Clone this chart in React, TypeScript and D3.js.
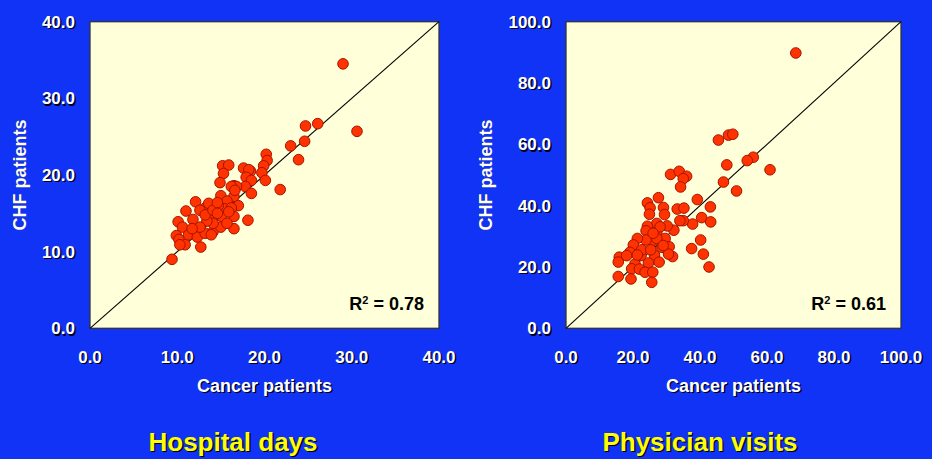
import React from "react";
import * as d3 from "d3";

// ---- Data ----
const hospitalCancer = [29.0, 30.6, 26.1, 24.7, 24.6, 23.0, 23.9, 21.8, 20.2, 20.3, 19.9, 19.7, 20.1, 18.4, 17.6, 18.2, 17.9, 18.5, 17.8, 18.5, 15.2, 15.9, 15.3, 14.9, 16.5, 16.8, 16.2, 15.0, 16.5, 15.7, 17.0, 16.5, 18.1, 16.5, 12.1, 11.0, 13.2, 14.1, 15.4, 16.2, 14.7, 13.6, 12.6, 11.8, 10.1, 10.6, 9.9, 10.2, 10.9, 10.3, 11.3, 12.2, 12.3, 12.7, 13.2, 14.1, 15.0, 14.1, 13.4, 9.4, 15.1, 15.9, 13.2, 12.6, 11.7, 15.7, 14.1, 16.6, 14.6, 13.9, 14.6];
const hospitalCHF = [34.5, 25.7, 26.7, 26.4, 24.4, 23.8, 22.0, 18.1, 22.7, 21.9, 21.2, 20.3, 19.3, 20.5, 20.9, 20.7, 19.7, 19.3, 18.5, 17.6, 21.2, 21.3, 20.2, 19.0, 18.6, 18.5, 18.5, 17.3, 17.2, 16.6, 16.0, 14.6, 14.1, 13.0, 16.5, 15.3, 15.7, 14.7, 15.6, 15.7, 16.0, 16.3, 15.4, 14.2, 13.9, 13.2, 12.1, 11.6, 10.9, 10.9, 12.2, 12.8, 11.9, 10.6, 12.4, 12.6, 13.2, 13.7, 14.0, 9.0, 14.6, 15.2, 14.8, 13.2, 13.0, 13.7, 15.4, 18.0, 16.4, 12.2, 15.0];

const visitsCancer = [68.6, 45.5, 48.5, 49.8, 55.9, 54.1, 60.9, 48.0, 47.0, 50.9, 31.2, 33.8, 36.0, 35.0, 34.2, 27.6, 24.3, 25.1, 24.9, 29.1, 29.4, 33.2, 35.2, 39.2, 43.1, 40.5, 43.2, 37.8, 35.0, 34.0, 40.2, 37.5, 41.0, 42.7, 32.2, 30.2, 27.1, 24.3, 23.9, 27.1, 29.6, 25.6, 23.9, 21.3, 20.1, 19.1, 15.9, 15.6, 22.4, 26.4, 28.6, 30.8, 31.8, 30.6, 27.8, 24.6, 20.6, 19.6, 21.9, 23.6, 25.9, 15.6, 19.4, 25.6, 28.1, 22.6, 25.3, 27.1, 18.1, 21.3, 26.0, 29.0];
const visitsCHF = [89.8, 61.4, 63.0, 63.3, 55.8, 54.7, 51.7, 53.3, 47.7, 44.8, 50.2, 51.2, 49.6, 48.8, 46.1, 42.6, 40.9, 39.3, 37.2, 39.4, 37.1, 38.9, 39.2, 42.0, 39.6, 36.1, 34.7, 34.0, 35.1, 35.1, 28.8, 26.0, 24.2, 20.0, 32.0, 33.4, 34.2, 33.3, 31.8, 31.2, 29.3, 28.3, 28.8, 29.3, 27.2, 24.8, 23.2, 21.6, 23.7, 23.9, 26.4, 26.6, 23.4, 24.2, 21.6, 21.3, 21.0, 19.4, 19.3, 18.3, 18.3, 16.9, 16.1, 15.0, 33.1, 25.6, 25.6, 29.3, 23.7, 23.9, 31.0, 27.0];

const hospitalTicks = [0, 10, 20, 30, 40];
const visitsTicks = [0, 20, 40, 60, 80, 100];

const xLabel = "Cancer patients";
const yLabel = "CHF patients";
const panelTitles = ["Hospital days", "Physician visits"];
const r2Labels = ["0.78", "0.61"];

// ---- Styles ----
const BG = "#1133F5";
const PLOT_BG = "#FFFFD9";
const DOT_FILL = "#FF3300";
const DOT_STROKE = "#A81200";
const FONT = "'Liberation Sans', Arial, Helvetica, sans-serif";

type PanelProps = {
  xs: number[];
  ys: number[];
  ticks: number[];
  max: number;
  x0: number;
  x1: number;
  y0: number;
  y1: number;
  title: string;
  r2: string;
  yLabelX: number;
  titleX: number;
};

function ShadowText(props: any) {
  const { children, fill, dx = 1.4, dy = 1.4, ...rest } = props;
  return (
    <g>
      <text {...rest} fill="#000018" transform={`translate(${dx},${dy})${rest.transform ? " " + rest.transform : ""}`}>
        {children}
      </text>
      <text {...rest} fill={fill}>
        {children}
      </text>
    </g>
  );
}

function Panel(p: PanelProps) {
  const x = d3.scaleLinear().domain([0, p.max]).range([p.x0, p.x1]);
  const y = d3.scaleLinear().domain([0, p.max]).range([p.y1, p.y0]);
  const fmt = d3.format(".1f");
  const cx = (p.x0 + p.x1) / 2;
  const cy = (p.y0 + p.y1) / 2;
  return (
    <g>
      <rect x={p.x0} y={p.y0} width={p.x1 - p.x0} height={p.y1 - p.y0} fill={PLOT_BG} stroke="#333" strokeWidth={1.3} />
      <line x1={x(0)} y1={y(0)} x2={x(p.max)} y2={y(p.max)} stroke="#000" strokeWidth={1.1} />
      {p.xs.map((v, i) => (
        <circle key={i} cx={x(v)} cy={y(p.ys[i])} r={5.3} fill={DOT_FILL} stroke={DOT_STROKE} strokeWidth={1} />
      ))}
      {p.ticks.map((t) => (
        <ShadowText key={"x" + t} x={x(t)} y={363} textAnchor="middle" fontFamily={FONT} fontWeight="bold" fontSize={17} fill="#fff">
          {fmt(t)}
        </ShadowText>
      ))}
      {p.ticks.map((t) => (
        <ShadowText key={"y" + t} x={p.x0 - 15} y={y(t) + 6} textAnchor="end" fontFamily={FONT} fontWeight="bold" fontSize={17} fill="#fff">
          {fmt(t)}
        </ShadowText>
      ))}
      <ShadowText x={cx} y={392} textAnchor="middle" fontFamily={FONT} fontWeight="bold" fontSize={18} fill="#fff">
        {xLabel}
      </ShadowText>
      <ShadowText
        x={0}
        y={0}
        transform={`translate(${p.yLabelX},${cy}) rotate(-90)`}
        textAnchor="middle"
        fontFamily={FONT}
        fontWeight="bold"
        fontSize={18}
        fill="#fff"
        dx={0}
        dy={0}
      >
        {yLabel}
      </ShadowText>
      <text x={p.x1 - 15} y={p.y1 - 18} textAnchor="end" fontFamily={FONT} fontWeight="bold" fontSize={18} fill="#000">
        R<tspan dy={-6} fontSize={11}>2</tspan>
        <tspan dy={6}> = {p.r2}</tspan>
      </text>
      <ShadowText x={p.titleX} y={451} textAnchor="middle" fontFamily={FONT} fontWeight="bold" fontSize={26} fill="#FFFF00">
        {p.title}
      </ShadowText>
    </g>
  );
}

export default function App() {
  return (
    <svg width={932} height={459} style={{ position: "absolute", left: 0, top: 0, display: "block" }}>
      <rect x={0} y={0} width={932} height={459} fill={BG} />
      <Panel
        xs={hospitalCancer}
        ys={hospitalCHF}
        ticks={hospitalTicks}
        max={40}
        x0={90}
        x1={439}
        y0={21.7}
        y1={328.3}
        title={panelTitles[0]}
        r2={r2Labels[0]}
        yLabelX={26}
        titleX={233}
      />
      <Panel
        xs={visitsCancer}
        ys={visitsCHF}
        ticks={visitsTicks}
        max={100}
        x0={566}
        x1={901}
        y0={21.7}
        y1={328.3}
        title={panelTitles[1]}
        r2={r2Labels[1]}
        yLabelX={492}
        titleX={700}
      />
    </svg>
  );
}
